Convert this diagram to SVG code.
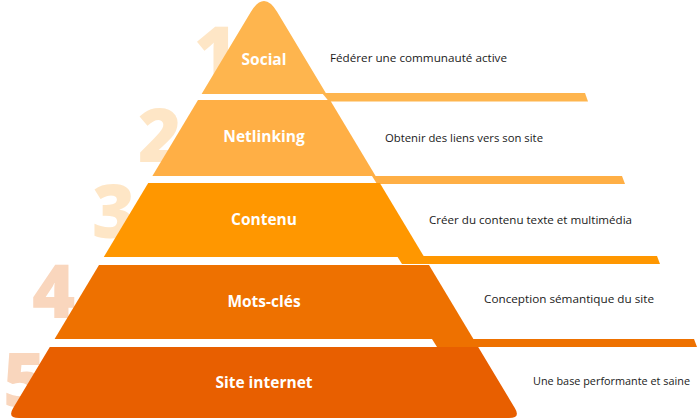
<svg xmlns="http://www.w3.org/2000/svg" width="700" height="420" viewBox="0 0 700 420">
<style>
.num{font-family:"Open Sans","Liberation Sans",sans-serif;font-weight:800;font-size:74px}
.n1{fill:#FEE6C6}
.n2{fill:#F9D6BD}
.lbl{font-family:"Open Sans","Liberation Sans",sans-serif;font-weight:700;font-size:15.5px;fill:#fff;text-anchor:middle}
.desc{font-family:"Open Sans","Liberation Sans",sans-serif;font-size:11.5px;fill:#1a1a1a}
.c1{fill:#FEB54E}.c2{fill:#FFAF45}.c3{fill:#FF9700}.c4{fill:#EE7100}.c5{fill:#E85F00}
</style>
<rect width="700" height="420" fill="#fff"/>
<g id="numbers">
<text class="num n1" x="194" y="80">1</text>
<text class="num n1" x="138" y="162">2</text>
<text class="num n1" x="92" y="238">3</text>
<text class="num n2" x="32" y="318">4</text>
<text class="num n2" x="3" y="407">5</text>
</g>
<g id="connectors">
<polygon class="c1" points="322,93 585,93 588,101.5 329,101.5"/>
<polygon class="c2" points="372,176 622,176 625,184 377,184"/>
<polygon class="c3" points="397,256 657,256 660,264 402,264"/>
<polygon class="c4" points="432,339 694,339 697,347 437,347"/>
</g>
<g id="tier1">
<path class="c1" d="M250.8,12 Q264,-10 277.2,12 L326.4,94 L201.6,94 Z"/>
<text class="lbl" x="264" y="65">Social</text>
<text class="desc" x="330" y="62" textLength="177" lengthAdjust="spacingAndGlyphs">Fédérer une communauté active</text>
</g>
<g id="tier2">
<polygon class="c2" points="198,100 330,100 375.6,176 152.4,176"/>
<text class="lbl" x="264" y="142">Netlinking</text>
<text class="desc" x="385" y="141.5" textLength="158" lengthAdjust="spacingAndGlyphs">Obtenir des liens vers son site</text>
</g>
<g id="tier3">
<polygon class="c3" points="148.2,183 379.8,183 424.2,257 103.8,257"/>
<text class="lbl" x="264" y="225">Contenu</text>
<text class="desc" x="429" y="224" textLength="203" lengthAdjust="spacingAndGlyphs">Créer du contenu texte et multimédia</text>
</g>
<g id="tier4">
<polygon class="c4" points="99,265 429,265 473.4,339 54.6,339"/>
<text class="lbl" x="264" y="307">Mots-clés</text>
<text class="desc" x="484" y="303" textLength="170" lengthAdjust="spacingAndGlyphs">Conception sémantique du site</text>
</g>
<g id="tier5">
<path class="c5" d="M49.8,347 L478.2,347 L514.8,408 Q521,418 509,418 L19,418 Q7,418 13.2,408 Z"/>
<text class="lbl" x="264" y="388">Site internet</text>
<text class="desc" x="533" y="385" textLength="157" lengthAdjust="spacingAndGlyphs">Une base performante et saine</text>
</g>
</svg>
